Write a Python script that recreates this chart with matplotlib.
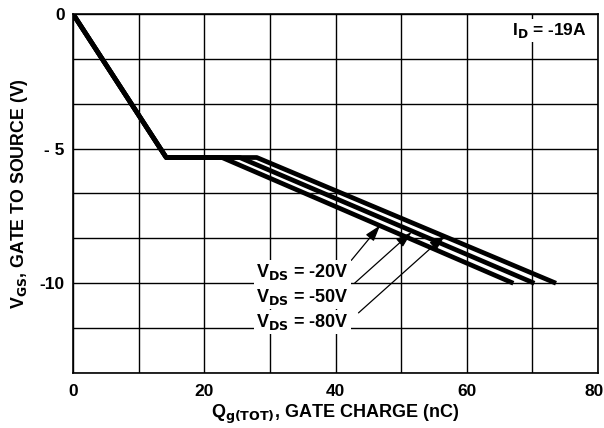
import matplotlib.pyplot as plt
import matplotlib.transforms as mtransforms
import numpy as np

plt.rcParams['font.family'] = ['Liberation Sans', 'DejaVu Sans']
plt.rcParams['font.weight'] = 'bold'
plt.rcParams['mathtext.default'] = 'bf'

# Data (gate charge in nC, gate-source voltage in V)
vds_labels = ['-20V', '-50V', '-80V']
q_plateau_start = 14.2
v_plateau = -5.33
q_plateau_end = [22.7, 25.4, 28.0]
q_end = [67.1, 70.3, 73.6]
v_end = -10.0

# arrow targets on each curve and label positions
arrow_tip_q = [46.8, 51.6, 56.7]
arrow_tip_v = [-7.85, -8.1, -8.22]
arrow_tail_q = [42.4, 42.9, 43.5]
arrow_tail_v = [-9.15, -10.0, -11.1]
label_v = [-9.6, -10.5, -11.45]

fig = plt.figure(figsize=(6.04, 4.28), dpi=100)
ax = fig.add_axes([0.1209, 0.1285, 0.8692, 0.8388])

for i in range(len(vds_labels)):
    q = [0, q_plateau_start, q_plateau_end[i], q_end[i]]
    v = [0, v_plateau, v_plateau, v_end]
    ax.plot(q, v, color='black', lw=3.4, solid_capstyle='butt', zorder=3)

ax.set_xlim(0, 80)
ax.set_ylim(-40 / 3, 0)
ax.set_xticks(np.arange(0, 81, 10), minor=True)
ax.set_xticks([0, 20, 40, 60, 80])
ax.set_yticks(np.arange(0, -13.4, -5 / 3), minor=True)
ax.set_yticks([0, -5, -10])
ax.set_yticklabels(['0', '- 5', '-10'])
ax.grid(True, which='both', color='black', lw=1.0)
ax.tick_params(which='both', length=0, labelsize=12.5)
ax.tick_params(axis='x', pad=8)
ax.tick_params(axis='y', pad=6)
for lbl in ax.get_xticklabels() + ax.get_yticklabels():
    lbl.set_fontweight('bold')
# last x tick label sits a bit left in the original
last = ax.get_xticklabels()[-1]
last.set_transform(last.get_transform() + mtransforms.ScaledTranslation(-4 / 100, 0, fig.dpi_scale_trans))
for s in ax.spines.values():
    s.set_linewidth(1.2)

for i, lab in enumerate(vds_labels):
    ax.annotate('', xy=(arrow_tip_q[i], arrow_tip_v[i]),
                xytext=(arrow_tail_q[i], arrow_tail_v[i]),
                arrowprops=dict(arrowstyle='-|>,head_length=0.7,head_width=0.22',
                                color='black', lw=0.9,
                                mutation_scale=14, shrinkA=0, shrinkB=0),
                zorder=4)
    ax.text(35.0, label_v[i], r'V$_{DS}$ = ' + lab, ha='center', va='center',
            fontsize=13, fontweight='bold', zorder=5,
            bbox=dict(facecolor='white', edgecolor='none', pad=1.5))

ax.text(78.3, -0.6, r'I$_{D}$ = -19A', ha='right', va='center',
        fontsize=12.5, fontweight='bold', zorder=5,
        bbox=dict(facecolor='white', edgecolor='none', pad=1.5))

ax.set_xlabel(r'Q$_{g(TOT)}$, GATE CHARGE (nC)', fontsize=13, fontweight='bold', labelpad=3)
ax.set_ylabel(r'V$_{GS}$, GATE TO SOURCE (V)', fontsize=12.8, fontweight='bold', labelpad=7)

fig.savefig('out.png', dpi=100)
